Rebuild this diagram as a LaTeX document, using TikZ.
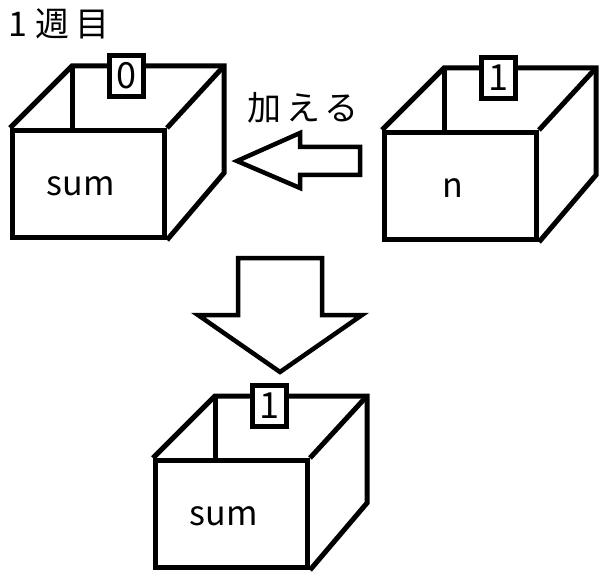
\documentclass[tikz,border=0pt]{standalone}
\usepackage{fontspec}
\setmainfont{Noto Sans CJK JP}
\usetikzlibrary{positioning,calc}

\tikzset{
  box front/.style={draw, line width=5pt, minimum width=152pt, minimum height=107pt, inner sep=0pt},
  box edge/.style={line width=5pt},
  value tag/.style={draw, fill=white, line width=5pt, minimum width=34pt, minimum height=41pt, inner sep=0pt, font=\fontsize{36}{36}\selectfont},
  box text/.style={font=\fontsize{34}{34}\selectfont},
  big arrow/.style={draw, line width=4.5pt, line join=miter},
}

\begin{document}
\begin{tikzpicture}[x=1pt, y=-1pt]
  \useasboundingbox (0,0) rectangle (605,580);

  % title
  \node[box text, anchor=west, inner sep=0pt] (title) at (8,24) {1\hspace{8pt}週\hspace{6pt}目};

  % the three boxes
  \foreach \name/\x/\y/\txt/\val in {sumA/10/128/sum/0, nbox/382/130/n/1, sumB/153/458/sum/1} {
    \node[box front, anchor=north west] (\name) at (\x,\y) {};
    \node[box text, xshift=-8pt, yshift=-2pt] (\name-text) at (\name.center) {\txt};
    \draw[box edge] (\name.north west) -- ++(62,-62) coordinate (\name-bl)
      -- ++(152,0) coordinate (\name-br) -- ++(0,107) coordinate (\name-bb)
      -- (\name.south east);
    \draw[box edge] (\name.north east) -- (\name-br);
    \draw[box edge] (\name-bl) -- ++(0,62);
    \node[value tag] (\name-tag) at ($(\name-bl)!0.5!(\name-br) + (-22,10)$) {\val};
  }

  % adding arrow
  \node[box text] (addlabel) at (303,108) {加\hspace{5pt}え\hspace{5pt}る};
  \draw[big arrow] (360,147) -- (300,147) -- (300,133) -- (237,161)
    -- (300,188) -- (300,175) -- (360,175) -- cycle;

  % result arrow
  \draw[big arrow] (238,258) -- (322,258) -- (322,315) -- (362,315)
    -- (280,372) -- (198,315) -- (238,315) -- cycle;
\end{tikzpicture}
\end{document}
